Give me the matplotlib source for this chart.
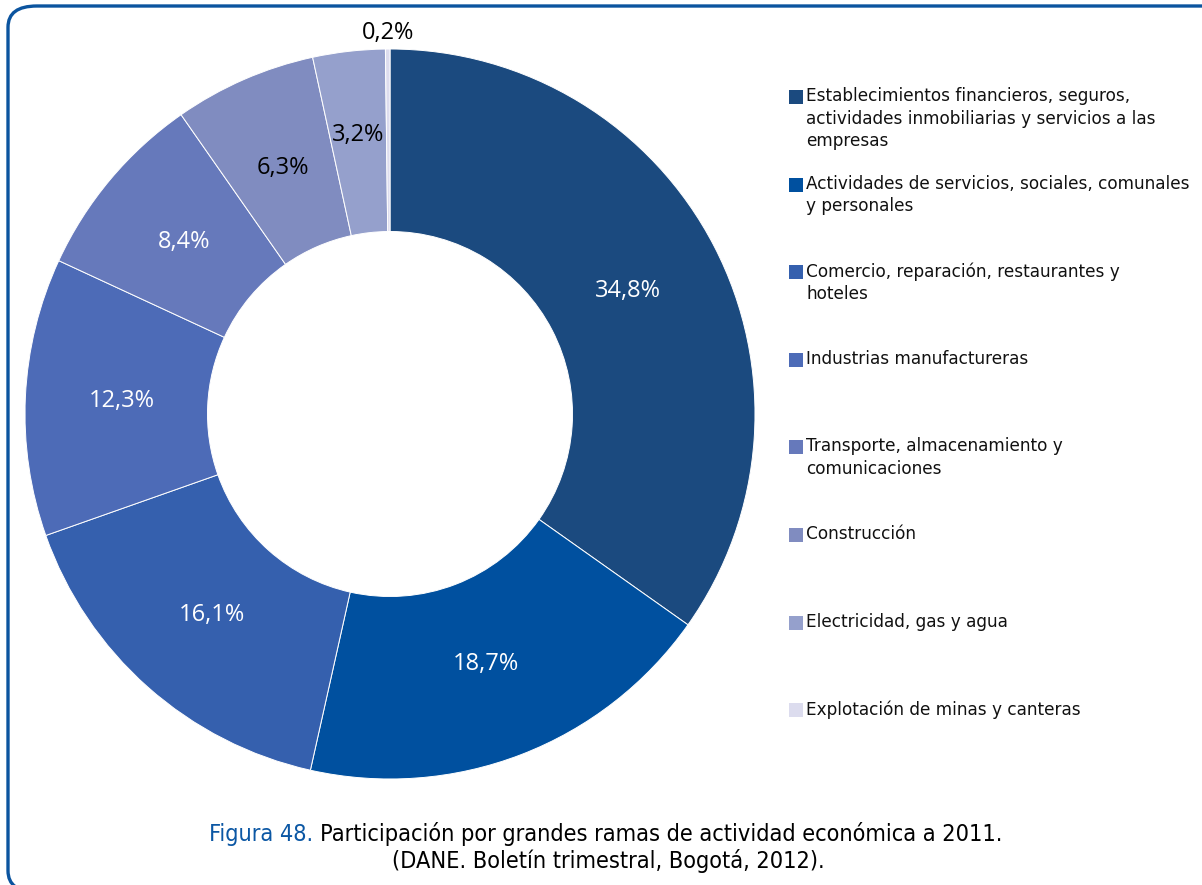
import numpy as np
import matplotlib.pyplot as plt
from matplotlib.patches import FancyBboxPatch, Rectangle

# -- datos --
ramas = [
    'Establecimientos financieros, seguros,\nactividades inmobiliarias y servicios a las\nempresas',
    'Actividades de servicios, sociales, comunales\ny personales',
    'Comercio, reparación, restaurantes y\nhoteles',
    'Industrias manufactureras',
    'Transporte, almacenamiento y\ncomunicaciones',
    'Construcción',
    'Electricidad, gas y agua',
    'Explotación de minas y canteras',
]
participacion = [34.8, 18.7, 16.1, 12.3, 8.4, 6.3, 3.2, 0.2]
colores = ['#1b4a7f', '#00509f', '#3560ae', '#4d6bb7',
           '#6679bb', '#808cc0', '#95a0cc', '#dcdcee']
color_texto = ['white'] * 5 + ['black'] * 3

W, H = 1202, 885
fig = plt.figure(figsize=(W / 100, H / 100), dpi=100)

# marco redondeado (lados derecho e inferior fuera de la imagen)
marco = FancyBboxPatch((8 / W, 1 - 892 / H), 1240 / W, 886 / H,
                       boxstyle='round,pad=0,rounding_size=0.024',
                       transform=fig.transFigure, fill=False,
                       edgecolor='#0b549f', linewidth=2.4, clip_on=False)
fig.add_artist(marco)

# -- dona --
cx, cy, R = 390, 414, 365
ax = fig.add_axes([(cx - R) / W, (H - cy - R) / H, 2 * R / W, 2 * R / H])

wedges, _, autotexts = ax.pie(
    participacion, colors=colores, startangle=90, counterclock=False,
    radius=1, wedgeprops=dict(width=0.5, edgecolor='white', linewidth=0.7),
    autopct=lambda p: f'{p:.1f}%'.replace('.', ','), pctdistance=0.735,
    textprops=dict(fontsize=17, family='Open Sans'))
for t, c in zip(autotexts, color_texto):
    t.set_color(c)
ax.set_xlim(-1, 1)
ax.set_ylim(-1, 1)
ax.set_aspect('auto')
ax.axis('off')

# la etiqueta más pequeña va por fuera
w = wedges[-1]
ang = np.deg2rad((w.theta1 + w.theta2) / 2)
autotexts[-1].set_position((1.045 * np.cos(ang), 1.045 * np.sin(ang)))
# la de 3,2% un poco más afuera, como en el original
w = wedges[-2]
ang = np.deg2rad((w.theta1 + w.theta2) / 2)
autotexts[-2].set_position((0.77 * np.cos(ang), 0.77 * np.sin(ang)))

# -- leyenda --
y0, paso = 97, 87.6
for i, (nombre, col) in enumerate(zip(ramas, colores)):
    y = y0 + i * paso
    fig.add_artist(Rectangle((789 / W, 1 - (y + 7) / H), 14 / W, 14 / H,
                             transform=fig.transFigure, facecolor=col,
                             edgecolor='none'))
    fig.text(806 / W, 1 - (y - 10) / H, nombre, ha='left', va='top',
             fontsize=12.2, family='DejaVu Sans', linespacing=1.33,
             color='#111111')

# -- pie de figura --
cap = dict(fontsize=16.8, family='DejaVu Sans', fontstretch='condensed')
fig.canvas.draw()
r = fig.canvas.get_renderer()
parte1 = 'Figura 48. '
parte2 = 'Participación por grandes ramas de actividad económica a 2011.'
t1 = fig.text(0, 0, parte1, **cap)
t2 = fig.text(0, 0, parte2, **cap)
w1 = t1.get_window_extent(r).width
w2 = t2.get_window_extent(r).width
x_ini = 606 - (w1 + w2) / 2
t1.set_position((x_ini / W, 1 - 834 / H))
t1.set_va('center')
t1.set_color('#0b57a4')
t2.set_position(((x_ini + w1) / W, 1 - 834 / H))
t2.set_va('center')
t2.set_color('black')
fig.text(608 / W, 1 - 861 / H, '(DANE. Boletín trimestral, Bogotá, 2012).',
         ha='center', va='center', color='black', **cap)

fig.savefig('out.png', dpi=100)
